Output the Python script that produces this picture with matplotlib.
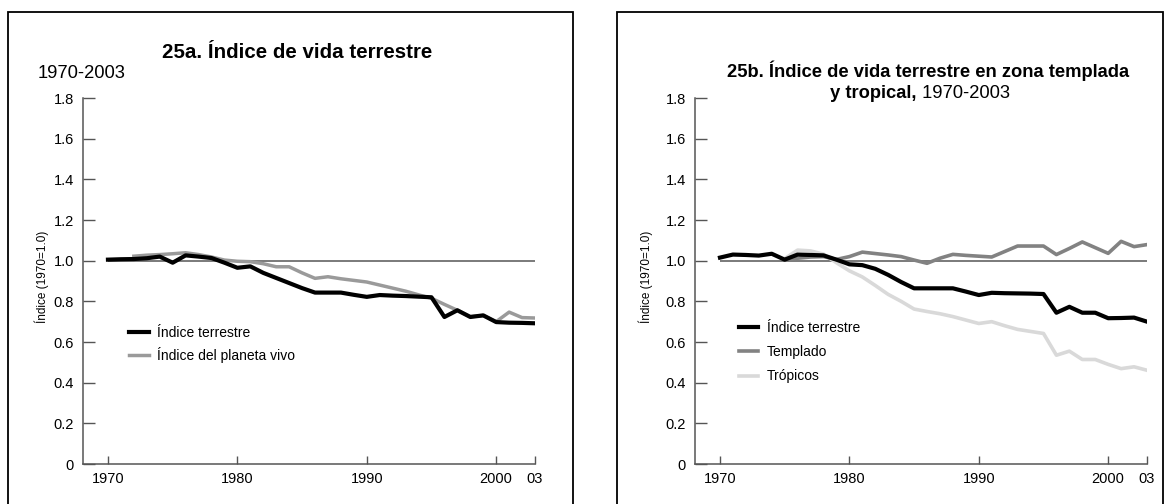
import matplotlib
matplotlib.use('Agg')
import matplotlib.pyplot as plt
from matplotlib.patches import Rectangle

plt.rcParams['font.family'] = ['Liberation Sans', 'DejaVu Sans']

# 25a
years_a = list(range(1970, 2004))
terrestre_a = [1.005, 1.007, 1.008, 1.012, 1.02, 0.99, 1.026, 1.02, 1.013, 0.99,
               0.965, 0.972, 0.94, 0.915, 0.89, 0.865, 0.843, 0.843, 0.843, 0.832,
               0.822, 0.831, 0.828, 0.826, 0.823, 0.82, 0.723, 0.756, 0.723, 0.731,
               0.698, 0.695, 0.694, 0.692]
years_lpi = list(range(1972, 2004))
planeta_vivo = [1.022, 1.027, 1.03, 1.034, 1.039, 1.03, 1.018, 1.003, 0.997, 0.995,
                0.985, 0.97, 0.97, 0.94, 0.913, 0.921, 0.911, 0.903, 0.895, 0.88,
                0.865, 0.85, 0.832, 0.815, 0.785, 0.756, 0.725, 0.73, 0.70, 0.747,
                0.72, 0.718]

# 25b
years_b = list(range(1970, 2004))
terrestre_b = [1.015, 1.03, 1.028, 1.025, 1.034, 1.005, 1.03, 1.028, 1.026, 1.005,
               0.982, 0.978, 0.96, 0.93, 0.895, 0.864, 0.864, 0.864, 0.864, 0.848,
               0.831, 0.842, 0.84, 0.839, 0.838, 0.836, 0.744, 0.773, 0.744, 0.744,
               0.717, 0.718, 0.72, 0.70]
years_zonas = list(range(1975, 2004))
templado = [1.005, 1.012, 1.018, 1.02, 1.006, 1.02, 1.042, 1.035, 1.028, 1.02,
            1.003, 0.987, 1.012, 1.031, 1.026, 1.022, 1.018, 1.045, 1.072, 1.072,
            1.072, 1.03, 1.06, 1.092, 1.064, 1.036, 1.095, 1.069, 1.079]
tropicos = [1.01, 1.052, 1.048, 1.032, 0.99, 0.95, 0.92, 0.878, 0.834, 0.80,
            0.762, 0.75, 0.739, 0.725, 0.708, 0.691, 0.70, 0.68, 0.662, 0.652,
            0.642, 0.535, 0.555, 0.514, 0.514, 0.49, 0.469, 0.478, 0.461]

xticks = [1970, 1980, 1990, 2000, 2003]
xticklabels = ['1970', '1980', '1990', '2000', '03']
yticks = [0, 0.2, 0.4, 0.6, 0.8, 1.0, 1.2, 1.4, 1.6, 1.8]
yticklabels = ['0', '0.2', '0.4', '0.6', '0.8', '1.0', '1.2', '1.4', '1.6', '1.8']

W, H = 1169, 504
fig = plt.figure(figsize=(W / 100, H / 100), dpi=100)

# panel frames
for x0, x1 in [(8, 573), (617, 1163)]:
    fig.patches.append(Rectangle((x0 / W, -0.05), (x1 - x0) / W, 0.05 + (H - 12) / H,
                                 transform=fig.transFigure, fill=False,
                                 edgecolor='black', linewidth=1.3))

axis_col = '#555555'


def setup(ax):
    ax.set_xlim(1968.07, 2003)
    ax.set_ylim(0, 1.8)
    ax.spines['top'].set_visible(False)
    ax.spines['right'].set_visible(False)
    for s in ['left', 'bottom']:
        ax.spines[s].set_color(axis_col)
        ax.spines[s].set_linewidth(1.1)
    ax.set_xticks(xticks)
    ax.set_xticklabels(xticklabels)
    ax.set_yticks(yticks)
    ax.set_yticklabels(yticklabels)
    ax.tick_params(axis='y', direction='in', length=8.6, width=1.0, color=axis_col,
                   pad=6.5, labelsize=10.5)
    ax.tick_params(axis='x', direction='in', length=5.8, width=1.0, color=axis_col,
                   pad=5.5, labelsize=10.5)
    ax.hlines(1.0, 1970, 2003, color='#707070', linewidth=1.3, zorder=1)
    ax.set_ylabel('Índice (1970=1.0)', fontsize=8.5)
    ax.patch.set_alpha(0)


ax1 = fig.add_axes([83 / W, 40 / H, 452 / W, 366 / H])
setup(ax1)
ax1.yaxis.set_label_coords(-0.075, 0.511)
ax1.plot(years_lpi, planeta_vivo, color='#9a9a9a', linewidth=2.5, label='Índice del planeta vivo', zorder=2)
ax1.plot(years_a, terrestre_a, color='black', linewidth=3.0, label='Índice terrestre', zorder=3)
h, l = ax1.get_legend_handles_labels()
ax1.legend(h[::-1], l[::-1], loc='upper left', bbox_to_anchor=(0.102, 0.378), frameon=False,
           fontsize=10, handlelength=1.4, handletextpad=0.6, borderpad=0,
           borderaxespad=0, labelspacing=0.55)

fig.text(297 / W, 1 - 52 / H, '25a. Índice de vida terrestre', ha='center', va='center',
         fontsize=14.8, fontweight='bold')
fig.text(38 / W, 1 - 73 / H, '1970-2003', ha='left', va='center', fontsize=13.2)

ax2 = fig.add_axes([695 / W, 40 / H, 452 / W, 366 / H])
setup(ax2)
ax2.yaxis.set_label_coords(-0.093, 0.511)
ax2.plot(years_zonas, tropicos, color='#d9d9d9', linewidth=2.6, label='Trópicos', zorder=2)
ax2.plot(years_zonas, templado, color='#828282', linewidth=2.6, label='Templado', zorder=2)
ax2.plot(years_b, terrestre_b, color='black', linewidth=3.0, label='Índice terrestre', zorder=3)
h, l = ax2.get_legend_handles_labels()
ax2.legend(h[::-1], l[::-1], loc='upper left', bbox_to_anchor=(0.097, 0.392), frameon=False,
           fontsize=10, handlelength=1.4, handletextpad=0.6, borderpad=0,
           borderaxespad=0, labelspacing=0.75)

fig.text(928 / W, 1 - 71 / H, '25b. Índice de vida terrestre en zona templada',
         ha='center', va='center', fontsize=13.2, fontweight='bold')

# second title line: bold part + regular part, centred together
renderer = fig.canvas.get_renderer()
t_bold = fig.text(0, 1 - 94 / H, 'y tropical,', ha='left', va='center', fontsize=13.2, fontweight='bold')
t_reg = fig.text(0, 1 - 94 / H, ' 1970-2003', ha='left', va='center', fontsize=13.2)
wb = t_bold.get_window_extent(renderer).width
wr = t_reg.get_window_extent(renderer).width
x_start = 920 - (wb + wr) / 2
t_bold.set_x(x_start / W)
t_reg.set_x((x_start + wb) / W)

fig.savefig('out.png', dpi=100)
